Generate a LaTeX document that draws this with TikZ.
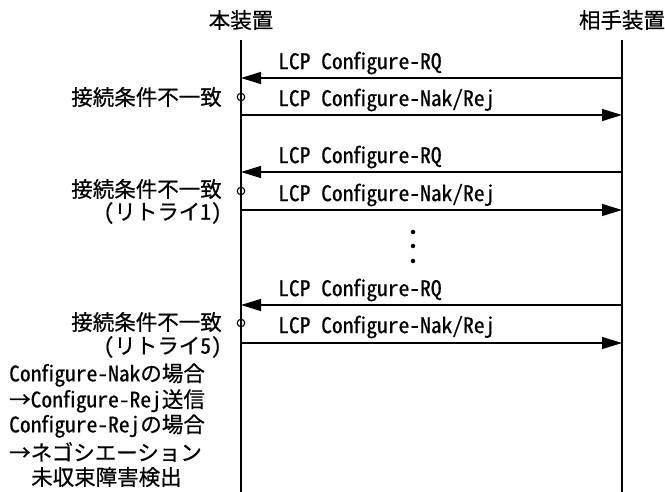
\documentclass[tikz,border=0pt]{standalone}
\usepackage{fontspec}
\setmainfont{Noto Sans CJK JP}[FakeBold=0.6]
\newfontfamily\hw{Noto Sans CJK JP}[RawFeature=+hwid,FakeBold=0.6]
\usetikzlibrary{arrows.meta}
\begin{document}
\begin{tikzpicture}[x=1pt,y=-1pt,
  txt/.style={inner sep=0pt,font=\fontsize{21.5}{25}\selectfont},
  lbl/.style={txt,anchor=west},
  note/.style={txt,anchor=east},
  life/.style={line width=1.4pt},
  msg/.style={line width=1.4pt,-{Triangle[length=20pt,width=12pt]}},
  ringmark/.style={circle,draw,line width=1.1pt,minimum size=7.5pt,inner sep=0pt},
  dotn/.style={circle,fill,minimum size=4.5pt,inner sep=0pt}]
\useasboundingbox (0,0) rectangle (665,492);
% headers
\node[txt] (hA) at (241,20) {本装置};
\node[txt] (hB) at (622,20) {相手装置};
% lifelines
\coordinate (A0) at (241,40); \coordinate (A1) at (241,492);
\coordinate (B0) at (622,40); \coordinate (B1) at (622,492);
\draw[life] (A0) -- (A1);
\draw[life] (B0) -- (B1);
% round 1
\coordinate (a1) at (241,78);  \coordinate (b1) at (622,78);
\coordinate (a2) at (241,115); \coordinate (b2) at (622,115);
\draw[msg] (b1) -- (a1);
\draw[msg] (a2) -- (b2);
\node[lbl] (l1) at (278,63) {\hw LCP Configure-RQ};
\node[lbl] (l2) at (278,100) {\hw LCP Configure-Nak/Rej};
\node[ringmark] (c1) at (241,97) {};
\node[note] (n1) at (222,97) {接続条件不一致};
% round 2
\coordinate (a3) at (241,172); \coordinate (b3) at (622,172);
\coordinate (a4) at (241,210); \coordinate (b4) at (622,210);
\draw[msg] (b3) -- (a3);
\draw[msg] (a4) -- (b4);
\node[lbl] (l3) at (278,157) {\hw LCP Configure-RQ};
\node[lbl] (l4) at (278,195) {\hw LCP Configure-Nak/Rej};
\node[ringmark] (c2) at (241,191) {};
\node[note] (n2) at (222,189) {接続条件不一致};
\node[note] (n3) at (222,213) {{\hw (}リトライ{\hw 1)}};
% dots
\node[dotn] (d1) at (413,232) {};
\node[dotn] (d2) at (413,246) {};
\node[dotn] (d3) at (413,261) {};
% round 3
\coordinate (a5) at (241,305); \coordinate (b5) at (622,305);
\coordinate (a6) at (241,343); \coordinate (b6) at (622,343);
\draw[msg] (b5) -- (a5);
\draw[msg] (a6) -- (b6);
\node[lbl] (l5) at (278,290) {\hw LCP Configure-RQ};
\node[lbl] (l6) at (278,327) {\hw LCP Configure-Nak/Rej};
\node[ringmark] (c3) at (241,323) {};
\node[note] (n4) at (222,322) {接続条件不一致};
\node[note] (n5) at (222,347) {{\hw (}リトライ{\hw 5)}};
% result notes
\node[lbl] (r1) at (9,375) {{\hw Configure-Nak}の場合};
\node[lbl] (r2) at (9,401) {→{\hw Configure-Rej}送信};
\node[lbl] (r3) at (9,426) {{\hw Configure-Rej}の場合};
\node[lbl] (r4) at (9,452) {→ネゴシエーション};
\node[lbl] (r5) at (31,477) {未収束障害検出};
\end{tikzpicture}
\end{document}
